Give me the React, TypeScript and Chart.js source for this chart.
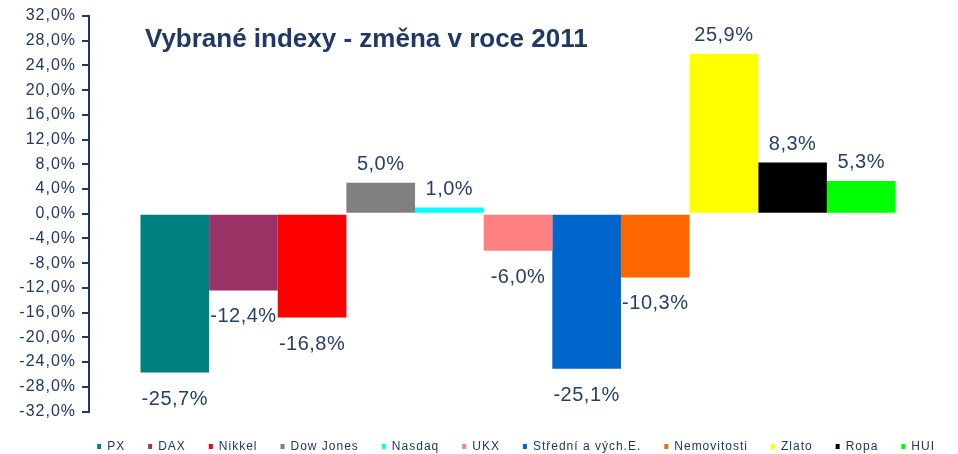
import React, { useEffect, useRef } from "react";
import { Chart, registerables } from "chart.js";

Chart.register(...registerables);

const categories = ["2011"];
const seriesNames = [
  "PX",
  "DAX",
  "Nikkel",
  "Dow Jones",
  "Nasdaq",
  "UKX",
  "Střední a vých.E.",
  "Nemovitosti",
  "Zlato",
  "Ropa",
  "HUI",
];
const seriesValues = [-25.7, -12.4, -16.8, 5.0, 1.0, -6.0, -25.1, -10.3, 25.9, 8.3, 5.3];
const seriesColors = [
  "#008080",
  "#993366",
  "#FF0000",
  "#808080",
  "#00FFFF",
  "#FF8080",
  "#0066CC",
  "#FF6600",
  "#FFFF00",
  "#000000",
  "#00FF00",
];
const yMin = -32;
const yMax = 32;
const yStep = 4;
const titleText = "Vybrané indexy - změna v roce 2011";

const NAVY = "#1F3864";
const LABEL_COLOR = "#27406A";

const fmt = (v: number) => v.toFixed(1).replace(".", ",") + "%";

const spacingPlugin = {
  id: "spacing",
  beforeLayout(chart: any) {
    (chart.ctx as any).letterSpacing = "1px";
  },
  beforeDraw(chart: any) {
    (chart.ctx as any).letterSpacing = "1px";
  },
};

const labelsPlugin = {
  id: "valueLabels",
  afterDraw(chart: any) {
    const ctx = chart.ctx;
    ctx.save();
    (ctx as any).letterSpacing = "0.5px";
    ctx.font = "20px Arial, 'Liberation Sans', sans-serif";
    ctx.fillStyle = LABEL_COLOR;
    ctx.textAlign = "center";
    ctx.textBaseline = "alphabetic";
    chart.data.datasets.forEach((ds: any, i: number) => {
      const meta = chart.getDatasetMeta(i);
      const el = meta.data[0];
      if (!el) return;
      const v = ds.data[0] as number;
      const y = v >= 0 ? el.y - 12.5 : el.y + 32;
      ctx.fillText(fmt(v), el.x, y);
    });
    (ctx as any).letterSpacing = "0px";
    ctx.font = "bold 26px Arial, 'Liberation Sans', sans-serif";
    ctx.fillStyle = NAVY;
    ctx.textAlign = "left";
    ctx.fillText(titleText, 145, 46.7);
    ctx.restore();
  },
};

export default function App() {
  const canvasRef = useRef<HTMLCanvasElement | null>(null);

  useEffect(() => {
    if (!canvasRef.current) return;
    const chart = new Chart(canvasRef.current, {
      type: "bar",
      data: {
        labels: categories,
        datasets: seriesNames.map((name, i) => ({
          label: name,
          data: [seriesValues[i]],
          backgroundColor: seriesColors[i],
          borderWidth: 0,
          categoryPercentage: 0.88,
          barPercentage: 1,
        })),
      },
      options: {
        animation: false,
        responsive: true,
        maintainAspectRatio: false,
        layout: { padding: { top: 16, right: 0, left: 8, bottom: -8.5 } },
        plugins: {
          tooltip: { enabled: false },
          title: { display: false },
          legend: {
            display: true,
            position: "bottom",
            fullSize: true,
            align: "end",
            labels: {
              boxWidth: 4,
              boxHeight: 5,
              padding: 23,
              color: NAVY,
              font: { size: 12, family: "Arial, 'Liberation Sans', sans-serif" },
            },
          },
        },
        scales: {
          x: {
            display: true,
            grid: { display: false },
            border: { display: false },
            ticks: { display: false },
            afterFit: (s: any) => {
              s.height = 6;
            },
          },
          y: {
            min: yMin,
            max: yMax,
            afterFit: (s: any) => {
              s.width = 81;
            },
            ticks: {
              stepSize: yStep,
              padding: 6,
              color: NAVY,
              font: { size: 16, family: "Arial, 'Liberation Sans', sans-serif" },
              callback: (v: any) => fmt(Number(v)),
            },
            grid: {
              display: true,
              drawOnChartArea: false,
              drawTicks: true,
              tickLength: 7,
              color: NAVY,
              lineWidth: 2,
            },
            border: { display: true, color: NAVY, width: 2 },
          },
          yRight: {
            type: "linear",
            position: "right",
            display: true,
            min: yMin,
            max: yMax,
            grid: { display: false },
            border: { display: false },
            ticks: { display: false },
            afterFit: (s: any) => {
              s.width = 11;
            },
          },
        },
      },
      plugins: [spacingPlugin, labelsPlugin],
    } as any);
    return () => chart.destroy();
  }, []);

  return (
    <div style={{ position: "fixed", left: 0, top: 0, width: 958, height: 454, background: "#fff" }}>
      <canvas ref={canvasRef} />
    </div>
  );
}
